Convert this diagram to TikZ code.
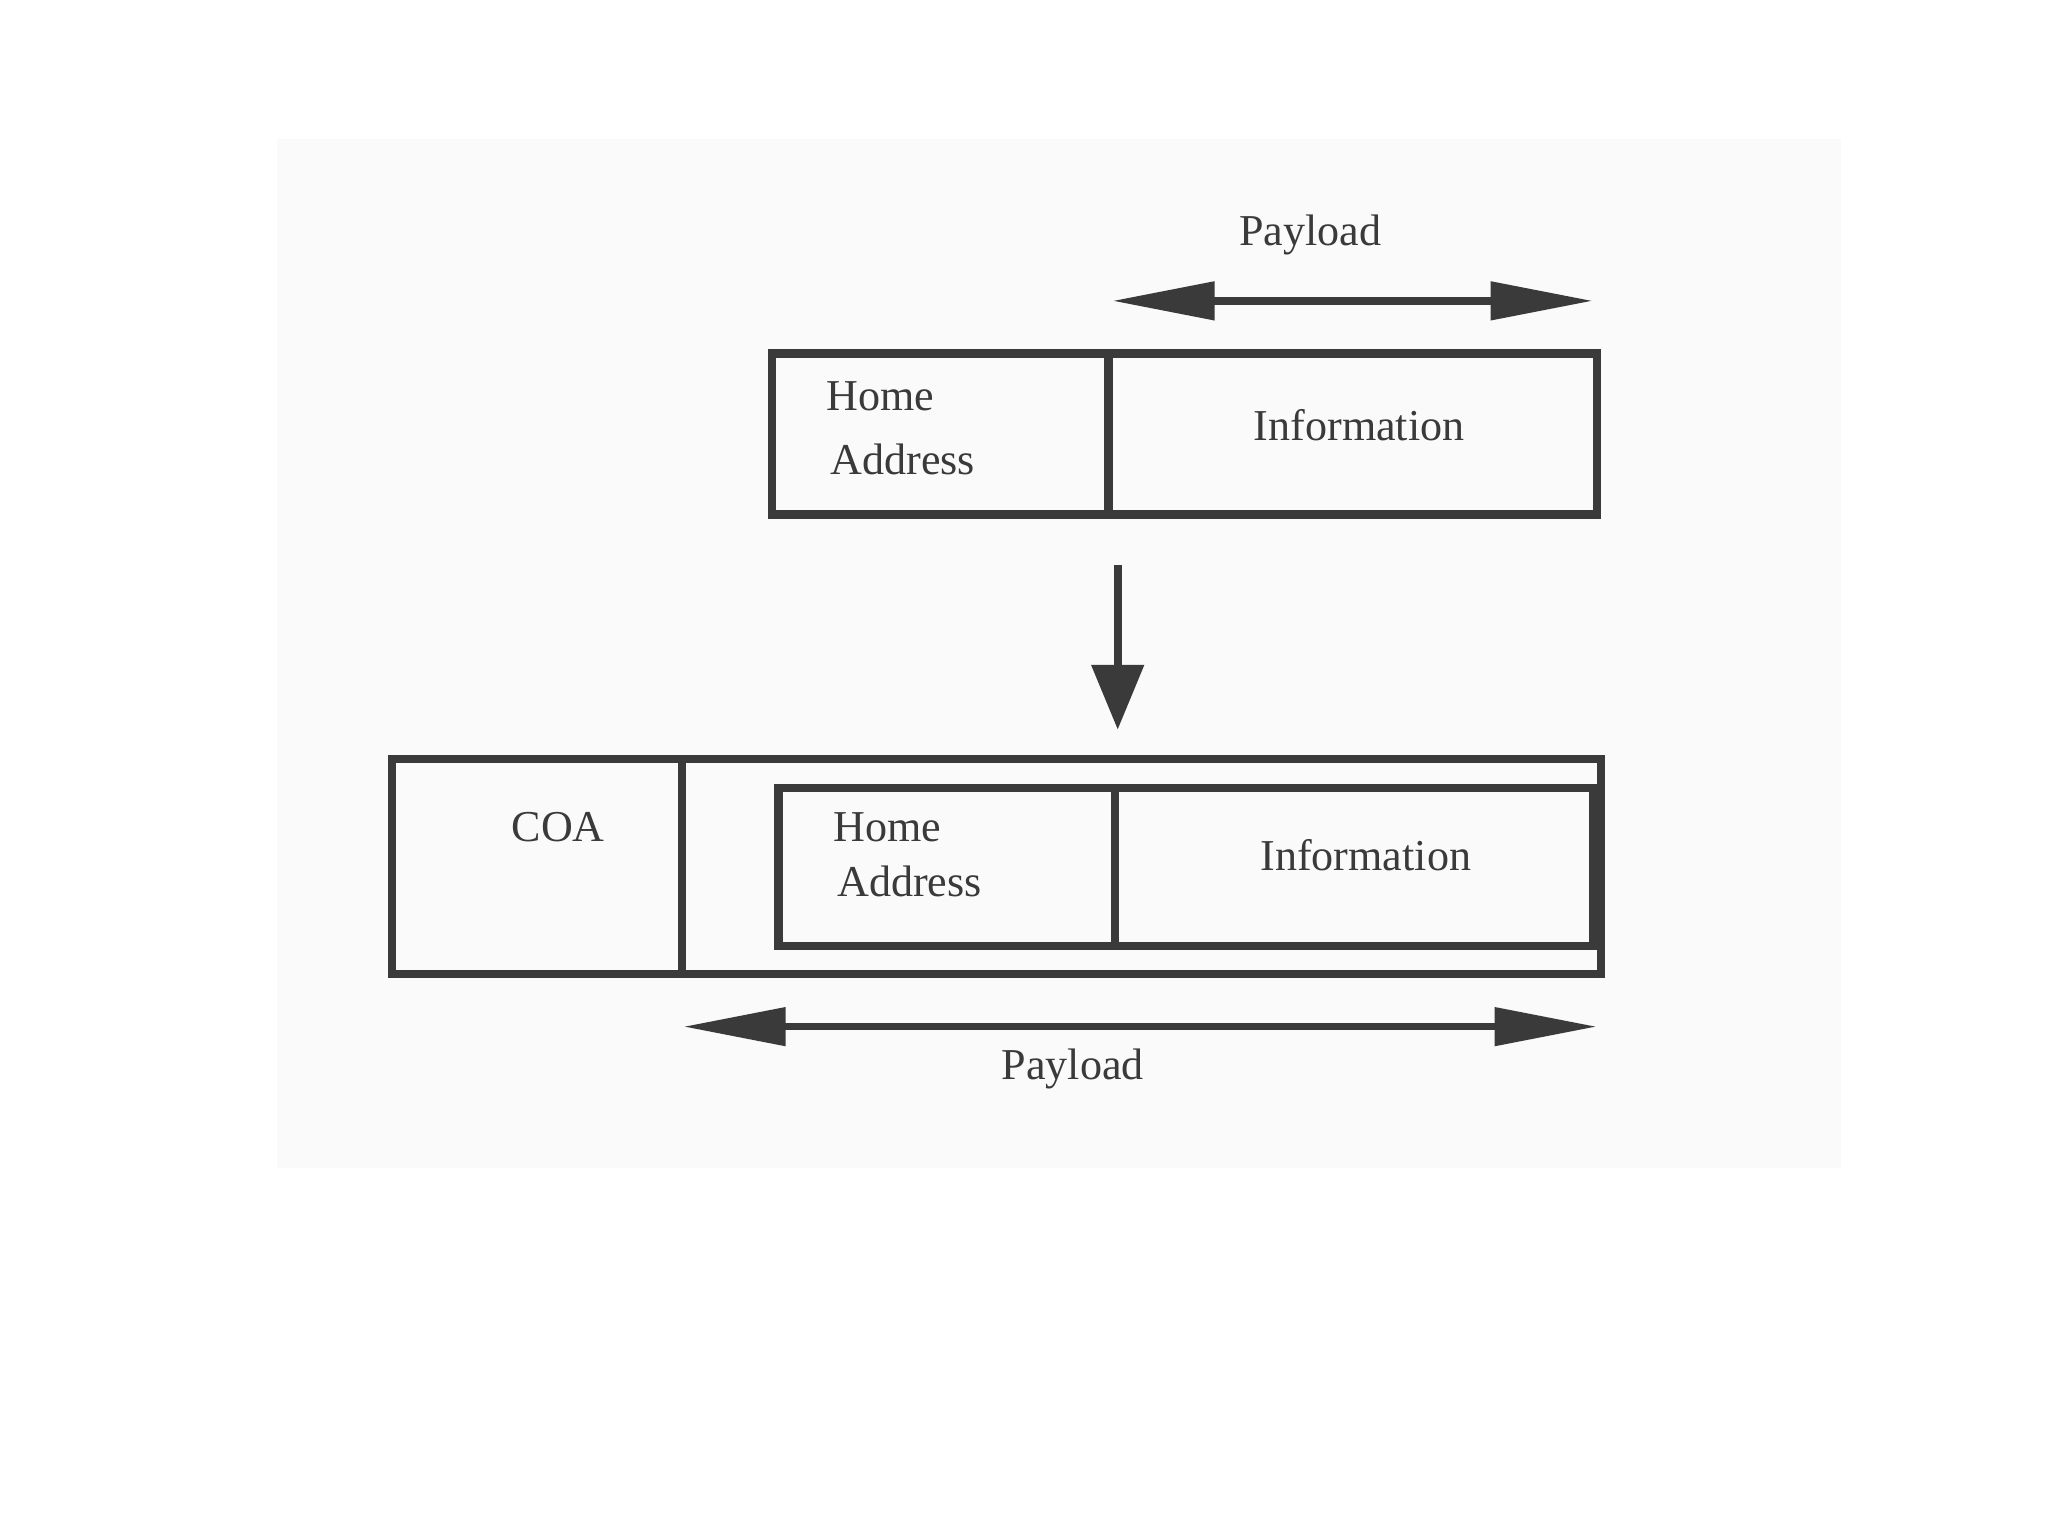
\documentclass[tikz,border=0pt]{standalone}
\usepackage{fontspec}
\setmainfont{Liberation Serif}
\usetikzlibrary{arrows.meta}
\definecolor{ink}{HTML}{3A3A3A}
\begin{document}
\begin{tikzpicture}[x=0.01cm,y=-0.01cm,
  box/.style={draw=ink,line width=1.8pt},
  lbl/.style={text=ink,font=\fontsize{9.5}{11}\selectfont},
  dbl/.style={draw=ink,line width=1.6pt,{Triangle[length=22pt,width=8pt]}-{Triangle[length=22pt,width=8pt]}},
  down/.style={draw=ink,line width=1.8pt,-{Triangle[length=14pt,width=11pt]}}]
\useasboundingbox (0,0) rectangle (1552,1164);
\fill[gray!4] (210,105) rectangle (1395,885);
% top packet
\draw[box] (585,268) rectangle (1210,390);
\draw[box] (840,268) -- (840,390);
\node[lbl,anchor=west] (h1) at (614,300) {Home};
\node[lbl,anchor=west] (a1) at (617,348) {Address};
\node[lbl] (i1) at (1030,322) {Information};
\coordinate (pl1) at (843,228); \coordinate (pr1) at (1207,228);
\draw[dbl] (pl1) -- (pr1);
\node[lbl] (p1) at (993,178) {Payload};
% down arrow
\coordinate (d1) at (847,428); \coordinate (d2) at (847,553);
\draw[down] (d1) -- (d2);
% bottom packet
\draw[box] (297,575) rectangle (1213,738);
\draw[box] (517,575) -- (517,738);
\draw[box] (590,597) rectangle (1207,717);
\draw[box] (845,597) -- (845,717);
\node[lbl] (coa) at (423,627) {COA};
\node[lbl,anchor=west] (h2) at (619,627) {Home};
\node[lbl,anchor=west] (a2) at (622,668) {Address};
\node[lbl] (i2) at (1035,648) {Information};
\coordinate (pl2) at (518,778); \coordinate (pr2) at (1210,778);
\draw[dbl] (pl2) -- (pr2);
\node[lbl] (p2) at (813,810) {Payload};
\end{tikzpicture}
\end{document}
